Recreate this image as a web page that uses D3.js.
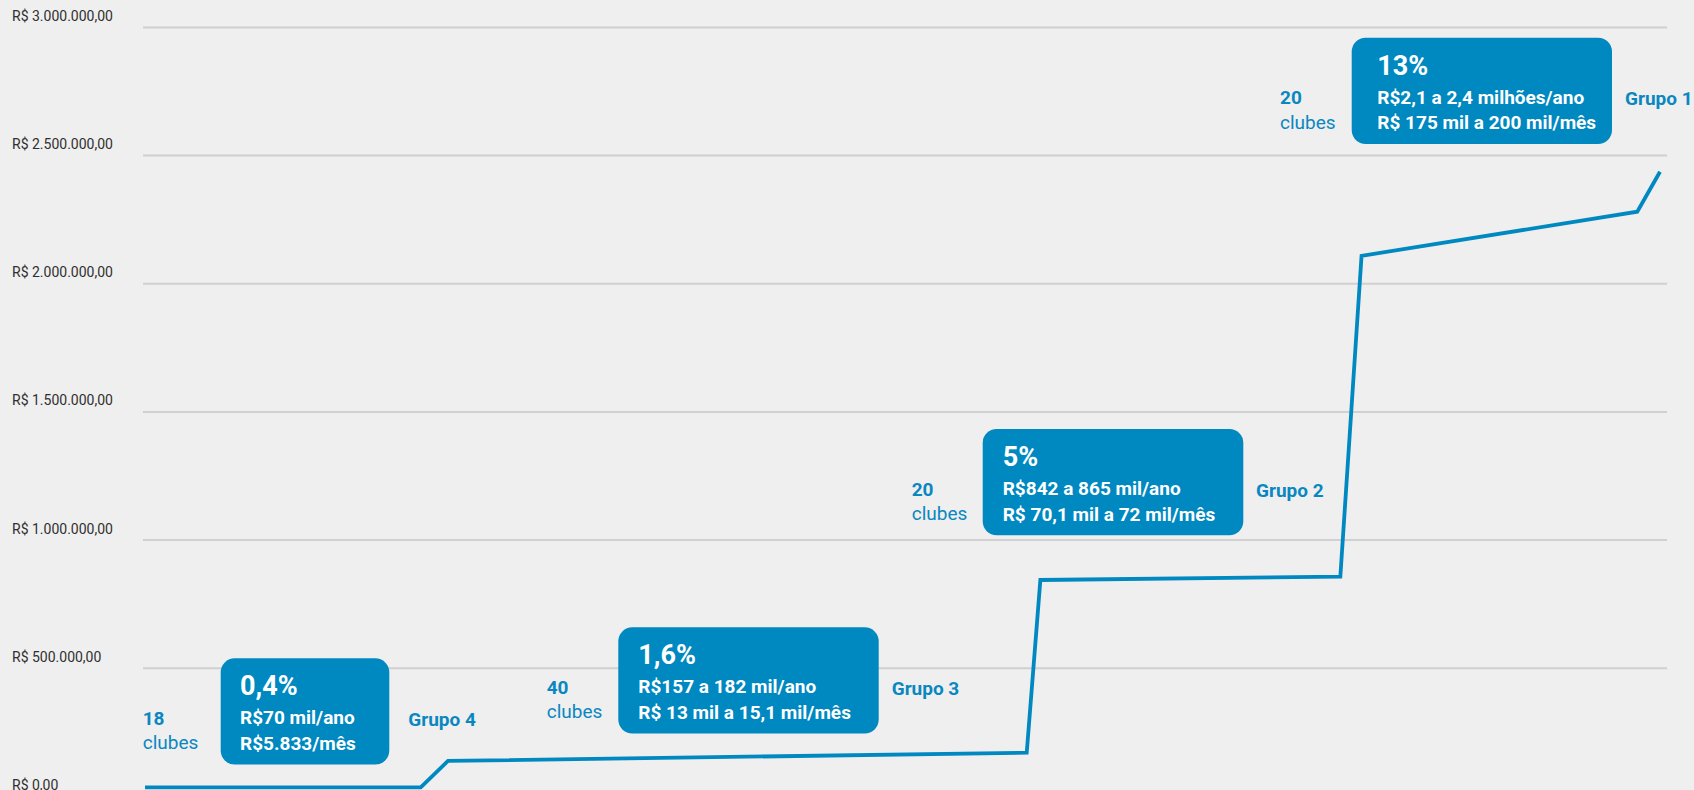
<!DOCTYPE html>
<html>
<head>
<meta charset="utf-8">
<script src="https://cdn.jsdelivr.net/npm/d3@7"></script>
<style>
  html, body { margin: 0; padding: 0; background: #efefef; overflow: hidden; }
  svg { display: block; font-family: Roboto, "Noto Sans", sans-serif; }
</style>
</head>
<body>
<svg id="chart" width="1694" height="790"></svg>
<script>
// ---------------- DATA ----------------
const yTicks = [0, 500000, 1000000, 1500000, 2000000, 2500000, 3000000];
const yTickLabels = ["R$ 0,00", "R$ 500.000,00", "R$ 1.000.000,00", "R$ 1.500.000,00",
                     "R$ 2.000.000,00", "R$ 2.500.000,00", "R$ 3.000.000,00"];

// position along the ranking of clubs (0-100) and salary value (R$)
const posicao = [0, 18.2, 20, 58.2, 59.1, 78.9, 80.3, 98.5, 100];
const valor   = [35000, 35000, 138000, 170000, 844000, 857000, 2109000, 2281000, 2437000];

const grupos     = ["Grupo 4", "Grupo 3", "Grupo 2", "Grupo 1"];
const clubes     = ["18", "40", "20", "20"];
const percentual = ["0,4%", "1,6%", "5%", "13%"];
const faixaAno   = ["R$70 mil/ano", "R$157 a 182 mil/ano", "R$842 a 865 mil/ano", "R$2,1 a 2,4 milhões/ano"];
const faixaMes   = ["R$5.833/mês", "R$ 13 mil a 15,1 mil/mês", "R$ 70,1 mil a 72 mil/mês", "R$ 175 mil a 200 mil/mês"];

// ---------------- LAYOUT ----------------
const W = 1694, H = 790;
const gridX1 = 143, gridX2 = 1667;
const boxLayout = [
  { x: 220.7,  y: 658.3, w: 168.6, pad: 19.3, cx: 142.7, gx: 408.3 },
  { x: 618.3,  y: 627.3, w: 260.4, pad: 20,   cx: 546.7, gx: 891.7 },
  { x: 982.7,  y: 429,   w: 260.6, pad: 20,   cx: 911.7, gx: 1256 },
  { x: 1351.7, y: 37.7,  w: 260.3, pad: 25.6, cx: 1280,  gx: 1625 }
];
const boxH = 106.3, boxR = 14;
const blue = "#0088c1", textBlue = "#0a87c0";

const svg = d3.select("#chart");

const x = d3.scaleLinear().domain([0, 100]).range([145, 1660]);
const y = d3.scaleLinear().domain([0, 3000000]).range([796.3, 27.46]);

// grid lines
svg.append("g").selectAll("line")
  .data(yTicks)
  .join("line")
  .attr("x1", gridX1).attr("x2", gridX2)
  .attr("y1", d => y(d)).attr("y2", d => y(d))
  .attr("stroke", "#d0d0d0").attr("stroke-width", 2);

// tick labels
svg.append("g").selectAll("text")
  .data(yTicks)
  .join("text")
  .attr("x", 12)
  .attr("y", d => y(d) - 6.5)
  .attr("font-size", 14)
  .attr("fill", "#2f2f2f")
  .text((d, i) => yTickLabels[i]);

// line
const pts = posicao.map((p, i) => [p, valor[i]]);
svg.append("path")
  .datum(pts)
  .attr("fill", "none")
  .attr("stroke", blue)
  .attr("stroke-width", 3.8)
  .attr("stroke-linejoin", "miter")
  .attr("d", d3.line().x(d => x(d[0])).y(d => y(d[1])));

// annotations
grupos.forEach((g, i) => {
  const b = boxLayout[i];
  const ga = svg.append("g");
  ga.append("rect")
    .attr("x", b.x).attr("y", b.y)
    .attr("width", b.w).attr("height", boxH)
    .attr("rx", boxR).attr("ry", boxR)
    .attr("fill", blue);
  ga.append("text")
    .attr("x", b.x + b.pad).attr("y", b.y + 37)
    .attr("font-size", 27).attr("font-weight", 700).attr("fill", "#fff")
    .text(percentual[i]);
  ga.append("text")
    .attr("x", b.x + b.pad).attr("y", b.y + 66)
    .attr("font-size", 19).attr("font-weight", 700).attr("fill", "#fff")
    .text(faixaAno[i]);
  ga.append("text")
    .attr("x", b.x + b.pad).attr("y", b.y + 91.7)
    .attr("font-size", 19).attr("font-weight", 700).attr("fill", "#fff")
    .text(faixaMes[i]);
  // clubs count
  ga.append("text")
    .attr("x", b.cx).attr("y", b.y + 66.5)
    .attr("font-size", 19).attr("font-weight", 700).attr("fill", textBlue)
    .text(clubes[i]);
  ga.append("text")
    .attr("x", b.cx).attr("y", b.y + 91)
    .attr("font-size", 19).attr("font-weight", 400).attr("fill", textBlue)
    .text("clubes");
  // group label
  ga.append("text")
    .attr("x", b.gx).attr("y", b.y + 67.5)
    .attr("font-size", 19).attr("font-weight", 700).attr("fill", textBlue)
    .text(g);
});
</script>
</body>
</html>
